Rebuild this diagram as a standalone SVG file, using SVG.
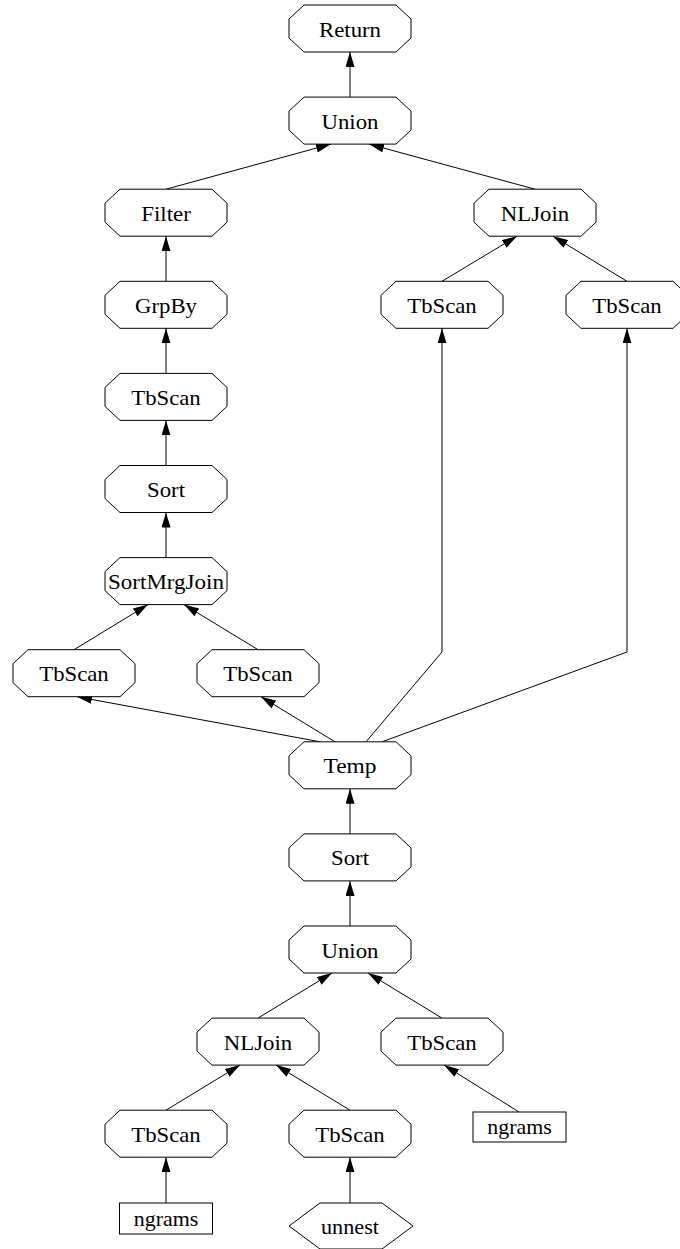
<svg xmlns="http://www.w3.org/2000/svg" xmlns:xlink="http://www.w3.org/1999/xlink" width="680" height="1249" viewBox="0 0 680 1249">
<style>
.n{fill:#fff;stroke:#000;stroke-width:1}
.t{font-family:"Liberation Serif","Times New Roman",serif;font-size:21px;text-anchor:middle;fill:#000}
.e{fill:none;stroke:#000;stroke-width:1;marker-end:url(#ah)}
</style>
<defs>
<marker id="ah" markerWidth="15" markerHeight="9" refX="15" refY="4.5" orient="auto" markerUnits="userSpaceOnUse"><path d="M0,0 L15,4.5 L0,9 z" fill="#000"/></marker>
<polygon id="oct" points="-46,-23.5 46,-23.5 61,-9.5 61,9.5 46,23.5 -46,23.5 -61,9.5 -61,-9.5"/>
</defs>
<rect width="680" height="1249" fill="#fff"/>
<g id="edges">
<path class="e" d="M350,97.1 L350,52"/>
<path class="e" d="M166,189.2 L331,144.1"/>
<path class="e" d="M535,189.2 L369,144.1"/>
<path class="e" d="M166,281.3 L166,236.2"/>
<path class="e" d="M442,281.3 L517,236.2"/>
<path class="e" d="M627,281.3 L553,236.2"/>
<path class="e" d="M166,373.4 L166,328.3"/>
<path class="e" d="M166,465.5 L166,420.4"/>
<path class="e" d="M166,557.6 L166,512.5"/>
<path class="e" d="M74,649.7 L148,604.6"/>
<path class="e" d="M258,649.7 L184,604.6"/>
<path class="e" d="M320,741.8 L77,696.7"/>
<path class="e" d="M335,741.8 L261,696.7"/>
<path class="e" d="M366,741.8 L442,652 L442,328.3"/>
<path class="e" d="M382,741.8 L627,652 L627,328.3"/>
<path class="e" d="M350,833.9 L350,788.8"/>
<path class="e" d="M350,926 L350,880.9"/>
<path class="e" d="M258,1018.1 L332,973"/>
<path class="e" d="M442,1018.1 L368,973"/>
<path class="e" d="M166,1110.2 L240,1065.1"/>
<path class="e" d="M350,1110.2 L276,1065.1"/>
<path class="e" d="M519,1112 L444,1065.1"/>
<path class="e" d="M166,1203 L166,1157.2"/>
<path class="e" d="M350,1203 L350,1157.2"/>
</g>
<g id="return"><use xlink:href="#oct" class="n" transform="translate(350,28.5)"/><text class="t" x="350" y="36.5" textLength="62" lengthAdjust="spacingAndGlyphs">Return</text></g>
<g id="union1"><use xlink:href="#oct" class="n" transform="translate(350,120.6)"/><text class="t" x="350" y="128.6" textLength="57" lengthAdjust="spacingAndGlyphs">Union</text></g>
<g id="filter"><use xlink:href="#oct" class="n" transform="translate(166,212.7)"/><text class="t" x="166" y="220.7" textLength="49.5" lengthAdjust="spacingAndGlyphs">Filter</text></g>
<g id="nljoin1"><use xlink:href="#oct" class="n" transform="translate(535,212.7)"/><text class="t" x="535" y="220.7" textLength="68.4" lengthAdjust="spacingAndGlyphs">NLJoin</text></g>
<g id="grpby"><use xlink:href="#oct" class="n" transform="translate(166,304.8)"/><text class="t" x="166" y="312.8" textLength="62" lengthAdjust="spacingAndGlyphs">GrpBy</text></g>
<g id="tbscan_r1"><use xlink:href="#oct" class="n" transform="translate(442,304.8)"/><text class="t" x="442" y="312.8" textLength="69.5" lengthAdjust="spacingAndGlyphs">TbScan</text></g>
<g id="tbscan_r2"><use xlink:href="#oct" class="n" transform="translate(627,304.8)"/><text class="t" x="627" y="312.8" textLength="69.5" lengthAdjust="spacingAndGlyphs">TbScan</text></g>
<g id="tbscan_l1"><use xlink:href="#oct" class="n" transform="translate(166,396.9)"/><text class="t" x="166" y="404.9" textLength="69.5" lengthAdjust="spacingAndGlyphs">TbScan</text></g>
<g id="sort1"><use xlink:href="#oct" class="n" transform="translate(166,489)"/><text class="t" x="166" y="497" textLength="38" lengthAdjust="spacingAndGlyphs">Sort</text></g>
<g id="sortmrgjoin"><use xlink:href="#oct" class="n" transform="translate(166,581.1)"/><text class="t" x="166" y="589.1" textLength="116" lengthAdjust="spacingAndGlyphs">SortMrgJoin</text></g>
<g id="tbscan_l2"><use xlink:href="#oct" class="n" transform="translate(74,673.2)"/><text class="t" x="74" y="681.2" textLength="69.5" lengthAdjust="spacingAndGlyphs">TbScan</text></g>
<g id="tbscan_l3"><use xlink:href="#oct" class="n" transform="translate(258,673.2)"/><text class="t" x="258" y="681.2" textLength="69.5" lengthAdjust="spacingAndGlyphs">TbScan</text></g>
<g id="temp"><use xlink:href="#oct" class="n" transform="translate(350,765.3)"/><text class="t" x="350" y="773.3" textLength="53" lengthAdjust="spacingAndGlyphs">Temp</text></g>
<g id="sort2"><use xlink:href="#oct" class="n" transform="translate(350,857.4)"/><text class="t" x="350" y="865.4" textLength="38" lengthAdjust="spacingAndGlyphs">Sort</text></g>
<g id="union2"><use xlink:href="#oct" class="n" transform="translate(350,949.5)"/><text class="t" x="350" y="957.5" textLength="57" lengthAdjust="spacingAndGlyphs">Union</text></g>
<g id="nljoin2"><use xlink:href="#oct" class="n" transform="translate(258,1041.6)"/><text class="t" x="258" y="1049.6" textLength="68.4" lengthAdjust="spacingAndGlyphs">NLJoin</text></g>
<g id="tbscan_b1"><use xlink:href="#oct" class="n" transform="translate(442,1041.6)"/><text class="t" x="442" y="1049.6" textLength="69.5" lengthAdjust="spacingAndGlyphs">TbScan</text></g>
<g id="tbscan_b2"><use xlink:href="#oct" class="n" transform="translate(166,1133.7)"/><text class="t" x="166" y="1141.7" textLength="69.5" lengthAdjust="spacingAndGlyphs">TbScan</text></g>
<g id="tbscan_b3"><use xlink:href="#oct" class="n" transform="translate(350,1133.7)"/><text class="t" x="350" y="1141.7" textLength="69.5" lengthAdjust="spacingAndGlyphs">TbScan</text></g>
<g id="ngrams1"><rect class="n" x="473" y="1112" width="93" height="30"/><text class="t" x="519.5" y="1134" textLength="64.5" lengthAdjust="spacingAndGlyphs">ngrams</text></g>
<g id="ngrams2"><rect class="n" x="119.5" y="1203" width="93" height="31"/><text class="t" x="166" y="1226" textLength="64.5" lengthAdjust="spacingAndGlyphs">ngrams</text></g>
<g id="unnest"><polygon class="n" points="289,1226 320,1203 382,1203 413,1226 382,1249 320,1249"/><text class="t" x="350" y="1234" textLength="58" lengthAdjust="spacingAndGlyphs">unnest</text></g>
</svg>
